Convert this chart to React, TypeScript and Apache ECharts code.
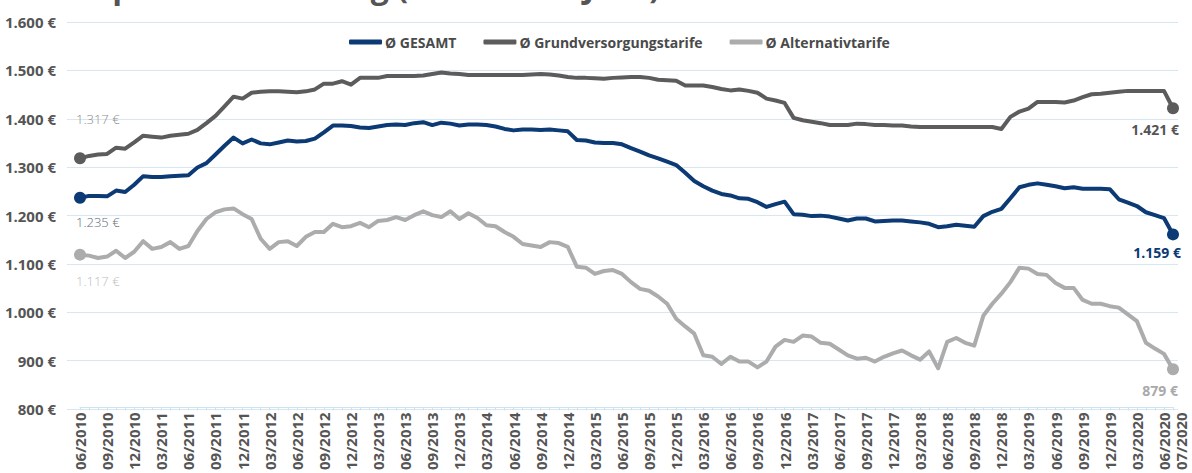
import React, { useEffect, useRef } from "react";
import * as echarts from "echarts";

const startYear = 2010;
const startMonth = 6;
const monthCount = 122;
const months: string[] = [];
for (let i = 0; i < monthCount; i++) {
  const m = ((startMonth - 1 + i) % 12) + 1;
  const y = startYear + Math.floor((startMonth - 1 + i) / 12);
  months.push((m < 10 ? "0" + m : "" + m) + "/" + y);
}

const gesamt = [
  1235, 1239, 1239, 1238, 1250, 1247, 1262, 1280, 1278, 1278,
  1280, 1281, 1282, 1298, 1307, 1325, 1343, 1360, 1348, 1356,
  1348, 1346, 1350, 1354, 1352, 1353, 1358, 1371, 1385, 1385,
  1384, 1381, 1380, 1383, 1386, 1387, 1386, 1390, 1392, 1386,
  1391, 1389, 1385, 1387, 1387, 1386, 1383, 1378, 1375, 1377,
  1377, 1376, 1377, 1375, 1373, 1355, 1354, 1350, 1349, 1349,
  1346, 1338, 1331, 1323, 1317, 1310, 1303, 1287, 1270, 1259,
  1250, 1243, 1240, 1234, 1233, 1226, 1216, 1222, 1227, 1201,
  1200, 1197, 1198, 1196, 1192, 1188, 1192, 1192, 1186, 1187,
  1188, 1188, 1186, 1184, 1181, 1174, 1176, 1179, 1177, 1175,
  1197, 1206, 1212, 1234, 1257, 1262, 1265, 1262, 1259, 1255,
  1257, 1254, 1254, 1254, 1253, 1232, 1225, 1218, 1205, 1199,
  1193, 1159,
];

const grund = [
  1317, 1322, 1325, 1326, 1339, 1337, 1350, 1364, 1362, 1360,
  1364, 1366, 1368, 1376, 1390, 1405, 1425, 1445, 1441, 1453,
  1455, 1456, 1456, 1455, 1454, 1456, 1460, 1472, 1472, 1477,
  1470, 1484, 1484, 1484, 1488, 1488, 1488, 1488, 1489, 1492,
  1495, 1493, 1492, 1490, 1490, 1490, 1490, 1490, 1490, 1490,
  1491, 1492, 1491, 1489, 1486, 1484, 1484, 1483, 1482, 1484,
  1485, 1486, 1486, 1484, 1480, 1479, 1478, 1468, 1468, 1468,
  1465, 1461, 1458, 1460, 1457, 1453, 1441, 1437, 1432, 1401,
  1396, 1393, 1390, 1386, 1386, 1386, 1389, 1388, 1386, 1386,
  1385, 1385, 1383, 1382, 1382, 1382, 1382, 1382, 1382, 1382,
  1382, 1382, 1378, 1403, 1414, 1420, 1434, 1434, 1434, 1433,
  1437, 1444, 1450, 1451, 1453, 1455, 1457, 1457, 1457, 1457,
  1457, 1421,
];

const alternativ = [
  1117, 1115, 1110, 1113, 1125, 1110, 1123, 1145, 1129, 1133,
  1143, 1129, 1135, 1166, 1191, 1205, 1211, 1213, 1201, 1191,
  1150, 1129, 1143, 1145, 1135, 1154, 1164, 1164, 1181, 1174,
  1176, 1183, 1174, 1187, 1189, 1195, 1189, 1199, 1207, 1199,
  1195, 1207, 1191, 1203, 1193, 1178, 1176, 1164, 1154, 1139,
  1136, 1133, 1143, 1141, 1133, 1092, 1090, 1077, 1083, 1085,
  1077, 1060, 1046, 1042, 1030, 1015, 984, 968, 953, 908,
  905, 890, 905, 895, 895, 883, 895, 926, 940, 936,
  949, 947, 934, 932, 920, 908, 901, 903, 895, 905,
  912, 918, 908, 899, 916, 881, 936, 944, 934, 928,
  990, 1015, 1036, 1060, 1090, 1088, 1077, 1075, 1058, 1048,
  1048, 1023, 1015, 1015, 1010, 1007, 993, 979, 934, 922,
  911, 879,
];

const seriesNames = ["Ø GESAMT", "Ø Grundversorgungstarife", "Ø Alternativtarife"];
const seriesColors = ["#0b3a75", "#5c5c5c", "#acacac"];
const startLabelColors = ["#5d6b7c", "#8a8a8a", "#bdbdbd"];
const endLabelColors = ["#0b3a75", "#555555", "#a9a9a9"];
const startLabelPos = [[2, 30], [2, -33], [2, 32]];
const endLabelPos = [[14, 24], [12, 27], [11, 27]];

const yMin = 800;
const yMax = 1600;
const yStep = 100;

const FONT = "'Open Sans', 'Noto Sans', sans-serif";

function euro(v: number): string {
  const n = Math.round(v);
  if (n >= 1000) {
    const rest = String(n % 1000);
    return Math.floor(n / 1000) + "." + "000".slice(rest.length) + rest + " €";
  }
  return n + " €";
}

function buildData(values: number[], idx: number) {
  const last = values.length - 1;
  return values.map((v, i) => {
    if (i === 0) {
      return {
        value: v,
        symbol: "circle",
        symbolSize: 12,
        label: {
          show: true,
          position: startLabelPos[idx],
          align: "left",
          verticalAlign: "middle",
          formatter: () => euro(v),
          color: startLabelColors[idx],
          fontFamily: FONT,
          fontSize: 13,
          fontWeight: 300,
        },
      };
    }
    if (i === last) {
      return {
        value: v,
        symbol: "circle",
        symbolSize: 12,
        label: {
          show: true,
          position: endLabelPos[idx],
          align: "right",
          verticalAlign: "middle",
          formatter: () => euro(v),
          color: endLabelColors[idx],
          fontFamily: FONT,
          fontSize: 14,
          fontWeight: "bold",
        },
      };
    }
    return { value: v };
  });
}

const xLabelStyle = {
  rotate: 90,
  fontFamily: FONT,
  fontSize: 15,
  fontWeight: "bold",
  color: "#555555",
  margin: 5,
};

export default function App() {
  const ref = useRef<HTMLDivElement>(null);
  useEffect(() => {
    if (!ref.current) return;
    const chart = echarts.init(ref.current, undefined, { renderer: "svg" });
    const allSeries = [gesamt, grund, alternativ];
    chart.setOption({
      animation: false,
      backgroundColor: "#ffffff",
      textStyle: { fontFamily: FONT },
      title: {
        text: "Strompreisentwicklung (4.000 kWh/Jahr)",
        left: 10,
        top: -36,
        textStyle: { fontFamily: FONT, fontSize: 32, fontWeight: "bold", color: "#555555" },
      },
      legend: {
        left: 344,
        top: 30,
        icon: "roundRect",
        itemWidth: 33,
        itemHeight: 5,
        itemGap: 27,
        textStyle: { fontFamily: FONT, fontSize: 14, fontWeight: "bold", color: "#4a4a4a", padding: [0, 0, 0, -2] },
        data: seriesNames,
      },
      grid: [
        { left: 80, right: 19, top: 22, bottom: 64 },
        { left: 67, right: 14, top: 22, bottom: 64 },
      ],
      xAxis: [
        {
          type: "category",
          gridIndex: 0,
          data: months,
          boundaryGap: false,
          axisLine: { show: true, lineStyle: { color: "#cfe2ef", width: 1 } },
          axisTick: { show: true, interval: 0, length: 3, lineStyle: { color: "#cfe2ef" } },
          axisLabel: {
            ...xLabelStyle,
            interval: (i: number) => i % 3 === 0,
            hideOverlap: false,
          },
          splitLine: { show: false },
        },
        {
          type: "value",
          gridIndex: 1,
          min: 0,
          max: 1,
          show: false,
        },
        {
          type: "category",
          gridIndex: 0,
          position: "bottom",
          data: months,
          boundaryGap: false,
          axisLine: { show: false },
          axisTick: { show: false },
          axisLabel: {
            ...xLabelStyle,
            interval: (i: number) => i === monthCount - 1,
            verticalAlign: "top",
          },
          splitLine: { show: false },
        },
      ],
      yAxis: [
        {
          type: "value",
          gridIndex: 0,
          min: yMin,
          max: yMax,
          interval: yStep,
          show: false,
          splitLine: { show: false },
        },
        {
          type: "value",
          gridIndex: 1,
          min: yMin,
          max: yMax,
          interval: yStep,
          axisLine: { show: false },
          axisTick: { show: false },
          axisLabel: {
            formatter: (v: number) => euro(v),
            fontFamily: FONT,
            fontSize: 15,
            fontWeight: "bold",
            color: "#555555",
            margin: 11,
          },
          splitLine: { show: true, lineStyle: { color: "#d5e7f2", width: 1 } },
        },
      ],
      series: allSeries.map((vals, idx) => ({
        name: seriesNames[idx],
        type: "line",
        xAxisIndex: 0,
        yAxisIndex: 0,
        symbol: "none",
        showSymbol: true,
        showAllSymbol: true,
        color: seriesColors[idx],
        lineStyle: { width: 4, color: seriesColors[idx], cap: "round", join: "round" },
        itemStyle: { color: seriesColors[idx] },
        z: 3 - idx + 2,
        data: buildData(vals, idx),
      })),
    });
    return () => chart.dispose();
  }, []);
  return (
    <div
      ref={ref}
      style={{ position: "fixed", left: 0, top: 0, width: 1192, height: 473 }}
    />
  );
}
